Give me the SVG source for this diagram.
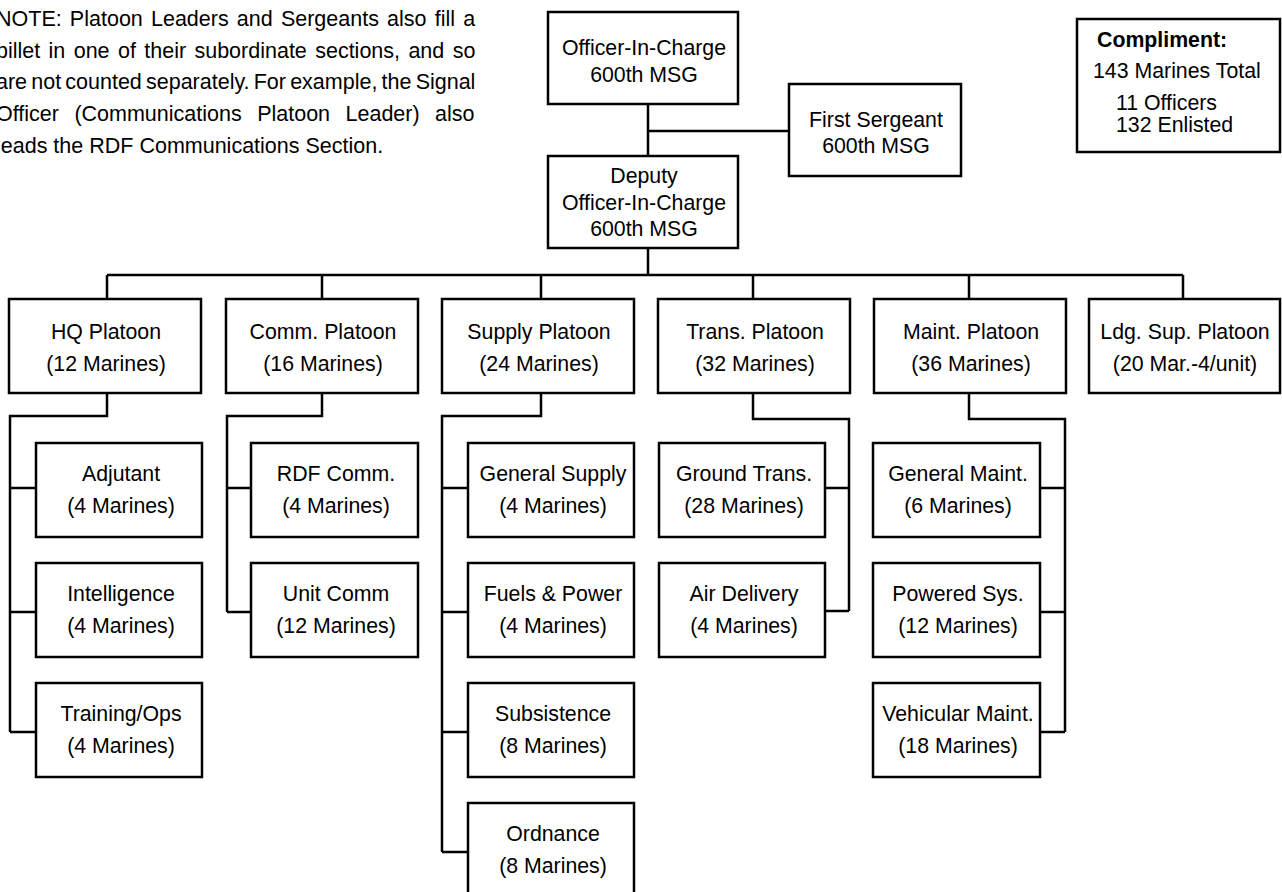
<svg xmlns="http://www.w3.org/2000/svg" width="1282" height="892" viewBox="0 0 1282 892">
<style>
.box{fill:#fff;stroke:#000;stroke-width:2.5}
.ln{fill:none;stroke:#000;stroke-width:2.5}
text{font-family:"Liberation Sans",Arial,sans-serif;font-size:21.3px;fill:#000}
.c{text-anchor:middle}
.note{font-size:21.5px}
.b{font-weight:bold}
</style>
<rect width="1282" height="892" fill="#fff"/>

<g id="note">
<text class="note" x="-4" y="26" word-spacing="2.2">NOTE: Platoon Leaders and Sergeants also fill a</text>
<text class="note" x="-4" y="57.5" word-spacing="2.4">billet in one of their subordinate sections, and so</text>
<text class="note" x="-4" y="89" word-spacing="-1.8">are not counted separately. For example, the Signal</text>
<text class="note" x="-4" y="121" word-spacing="9.5">Officer (Communications Platoon Leader) also</text>
<text class="note" x="-4" y="152.5">leads the RDF Communications Section.</text>
</g>

<g id="connectors">
<path class="ln" d="M648 104V156M648 131H789M648 248V275M107 275H1183"/>
<path class="ln" d="M107 275V299M322 275V299M541 275V299M753 275V299M969 275V299M1183 275V299"/>
<path class="ln" d="M107 393V416H10V732M10 488H36M10 612H36M10 732H36"/>
<path class="ln" d="M322 393V416H227V612M227 488H251M227 612H251"/>
<path class="ln" d="M541 393V416H442V852M442 488H468M442 612H468M442 732H468M442 852H468"/>
<path class="ln" d="M753 393V419H849V611M825 488H849M825 611H849"/>
<path class="ln" d="M969 393V419H1065V732M1040 488H1065M1040 612H1065M1040 732H1065"/>
</g>

<g id="oic"><rect class="box" x="548" y="12" width="190" height="92"/>
<text class="c" x="644" y="55">Officer-In-Charge</text><text class="c" x="644" y="82">600th MSG</text></g>
<g id="first-sergeant"><rect class="box" x="789" y="84" width="172" height="92"/>
<text class="c" x="876" y="127">First Sergeant</text><text class="c" x="876" y="153">600th MSG</text></g>
<g id="deputy"><rect class="box" x="548" y="156" width="190" height="92"/>
<text class="c" x="644" y="183">Deputy</text><text class="c" x="644" y="210">Officer-In-Charge</text><text class="c" x="644" y="236">600th MSG</text></g>

<g id="compliment"><rect class="box" x="1077" y="19" width="203" height="133"/>
<text class="b" x="1097" y="47">Compliment:</text>
<text x="1093" y="78">143 Marines Total</text>
<text x="1116" y="110">11 Officers</text>
<text x="1116" y="132">132 Enlisted</text></g>

<g id="hq-platoon"><rect class="box" x="9" y="299" width="192" height="94"/>
<text class="c" x="106" y="339">HQ Platoon</text><text class="c" x="106" y="371">(12 Marines)</text></g>
<g id="comm-platoon"><rect class="box" x="226" y="299" width="192" height="94"/>
<text class="c" x="323" y="339">Comm. Platoon</text><text class="c" x="323" y="371">(16 Marines)</text></g>
<g id="supply-platoon"><rect class="box" x="442" y="299" width="192" height="94"/>
<text class="c" x="539" y="339">Supply Platoon</text><text class="c" x="539" y="371">(24 Marines)</text></g>
<g id="trans-platoon"><rect class="box" x="658" y="299" width="192" height="94"/>
<text class="c" x="755" y="339">Trans. Platoon</text><text class="c" x="755" y="371">(32 Marines)</text></g>
<g id="maint-platoon"><rect class="box" x="874" y="299" width="192" height="94"/>
<text class="c" x="971" y="339">Maint. Platoon</text><text class="c" x="971" y="371">(36 Marines)</text></g>
<g id="ldg-platoon"><rect class="box" x="1089" y="299" width="191" height="94"/>
<text class="c" x="1185" y="339">Ldg. Sup. Platoon</text><text class="c" x="1185" y="371">(20 Mar.-4/unit)</text></g>

<g id="adjutant"><rect class="box" x="36" y="443" width="166" height="94"/>
<text class="c" x="121" y="481">Adjutant</text><text class="c" x="121" y="513">(4 Marines)</text></g>
<g id="intelligence"><rect class="box" x="36" y="563" width="166" height="94"/>
<text class="c" x="121" y="601">Intelligence</text><text class="c" x="121" y="633">(4 Marines)</text></g>
<g id="training"><rect class="box" x="36" y="683" width="166" height="94"/>
<text class="c" x="121" y="721">Training/Ops</text><text class="c" x="121" y="753">(4 Marines)</text></g>

<g id="rdf-comm"><rect class="box" x="251" y="443" width="167" height="94"/>
<text class="c" x="336" y="481">RDF Comm.</text><text class="c" x="336" y="513">(4 Marines)</text></g>
<g id="unit-comm"><rect class="box" x="251" y="563" width="167" height="94"/>
<text class="c" x="336" y="601">Unit Comm</text><text class="c" x="336" y="633">(12 Marines)</text></g>

<g id="general-supply"><rect class="box" x="468" y="443" width="166" height="94"/>
<text class="c" x="553" y="481">General Supply</text><text class="c" x="553" y="513">(4 Marines)</text></g>
<g id="fuels"><rect class="box" x="468" y="563" width="166" height="94"/>
<text class="c" x="553" y="601">Fuels &amp; Power</text><text class="c" x="553" y="633">(4 Marines)</text></g>
<g id="subsistence"><rect class="box" x="468" y="683" width="166" height="94"/>
<text class="c" x="553" y="721">Subsistence</text><text class="c" x="553" y="753">(8 Marines)</text></g>
<g id="ordnance"><rect class="box" x="468" y="803" width="166" height="94"/>
<text class="c" x="553" y="841">Ordnance</text><text class="c" x="553" y="873">(8 Marines)</text></g>

<g id="ground-trans"><rect class="box" x="659" y="443" width="166" height="94"/>
<text class="c" x="744" y="481">Ground Trans.</text><text class="c" x="744" y="513">(28 Marines)</text></g>
<g id="air-delivery"><rect class="box" x="659" y="563" width="166" height="94"/>
<text class="c" x="744" y="601">Air Delivery</text><text class="c" x="744" y="633">(4 Marines)</text></g>

<g id="general-maint"><rect class="box" x="873" y="443" width="167" height="94"/>
<text class="c" x="958" y="481">General Maint.</text><text class="c" x="958" y="513">(6 Marines)</text></g>
<g id="powered-sys"><rect class="box" x="873" y="563" width="167" height="94"/>
<text class="c" x="958" y="601">Powered Sys.</text><text class="c" x="958" y="633">(12 Marines)</text></g>
<g id="vehicular-maint"><rect class="box" x="873" y="683" width="167" height="94"/>
<text class="c" x="958" y="721">Vehicular Maint.</text><text class="c" x="958" y="753">(18 Marines)</text></g>
</svg>
